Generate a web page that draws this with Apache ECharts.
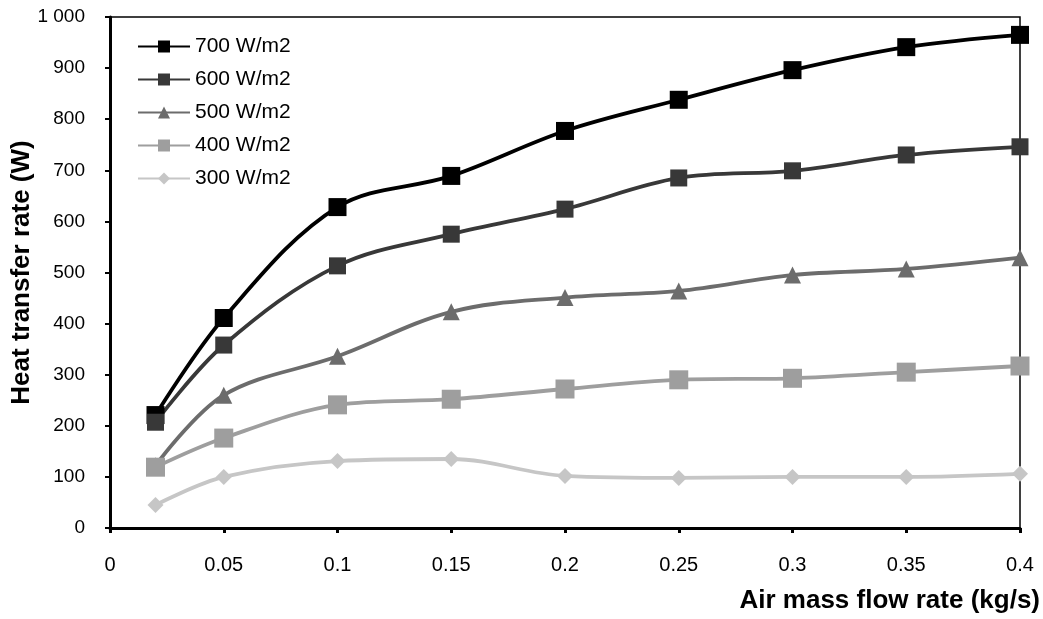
<!DOCTYPE html>
<html>
<head>
<meta charset="utf-8">
<script src="https://cdn.jsdelivr.net/npm/echarts@6/dist/echarts.min.js"></script>
<style>
  html, body { margin: 0; padding: 0; background: #fff; }
  #chart { width: 1043px; height: 619px; }
</style>
</head>
<body>
<div id="chart"></div>
<script>
// air mass flow rate (kg/s)
const flowRates = [0.02, 0.05, 0.1, 0.15, 0.2, 0.25, 0.3, 0.35, 0.4];

// heat transfer rate (W) per irradiance
const w700 = [221, 411, 628, 689, 777, 838, 896, 941, 965];
const w600 = [207, 358, 513, 575, 624, 685, 699, 730, 746];
const w500 = [122, 260, 336, 423, 451, 464, 495, 507, 529];
const w400 = [119, 176, 241, 252, 272, 290, 293, 305, 317];
const w300 = [45, 100, 131, 135, 102, 98, 100, 100, 106];

const seriesNames = ['700 W/m2', '600 W/m2', '500 W/m2', '400 W/m2', '300 W/m2'];

const FONT = 'Liberation Sans, Arial, sans-serif';

let chart = echarts.init(document.getElementById('chart'));

function makeSeries(name, values, color, symbol, size) {
  return {
    name: name,
    type: 'line',
    smooth: 0.35,
    symbol: symbol,
    symbolSize: size,
    data: flowRates.map((x, i) => [x, values[i]]),
    lineStyle: { color: color, width: 3.8 },
    itemStyle: { color: color },
    emphasis: { disabled: true }
  };
}

let option = {
  animation: false,
  backgroundColor: '#fff',
  textStyle: { fontFamily: FONT },
  grid: {
    left: 110, top: 17, right: 23, bottom: 91,
    outerBoundsMode: 'none',
    containLabel: false,
    show: true, borderColor: '#000', borderWidth: 1.5
  },
  legend: {
    orient: 'vertical',
    left: 132, top: 31,
    itemWidth: 52, itemHeight: 15, itemGap: 12,
    textStyle: { fontSize: 21, lineHeight: 21, color: '#000', fontFamily: FONT },
    data: seriesNames
  },
  xAxis: {
    type: 'value',
    min: 0, max: 0.4, interval: 0.05,
    name: 'Air mass flow rate (kg/s)',
    nameLocation: 'end',
    nameGap: 0,
    nameMoveOverlap: false,
    nameTextStyle: {
      fontSize: 26, fontWeight: 'bold', color: '#000', fontFamily: FONT,
      align: 'right', verticalAlign: 'top', padding: [60, -20, 0, 0]
    },
    splitLine: { show: false },
    axisLine: { lineStyle: { color: '#000', width: 3 } },
    axisTick: { show: true, length: 5, lineStyle: { color: '#000', width: 3 } },
    axisLabel: { fontSize: 20, color: '#000', margin: 27 }
  },
  yAxis: {
    type: 'value',
    min: 0, max: 1000, interval: 100,
    name: 'Heat transfer rate (W)',
    nameLocation: 'middle',
    nameGap: 75,
    nameMoveOverlap: false,
    nameTextStyle: { fontSize: 26, fontWeight: 'bold', color: '#000', fontFamily: FONT },
    splitLine: { show: false },
    axisLine: { show: true, lineStyle: { color: '#000', width: 3 } },
    axisTick: { show: true, length: 5, lineStyle: { color: '#000', width: 2 } },
    axisLabel: {
      fontSize: 19, color: '#000', margin: 25,
      formatter: (v) => v >= 1000 ? '1 000' : String(v)
    }
  },
  series: [
    makeSeries(seriesNames[0], w700, '#000000', 'rect', 18),
    makeSeries(seriesNames[1], w600, '#383838', 'rect', 17),
    makeSeries(seriesNames[2], w500, '#6c6c6c', 'triangle', 17),
    makeSeries(seriesNames[3], w400, '#9e9e9e', 'rect', 19),
    makeSeries(seriesNames[4], w300, '#c6c6c6', 'diamond', 16)
  ]
};

chart.setOption(option);
</script>
</body>
</html>
